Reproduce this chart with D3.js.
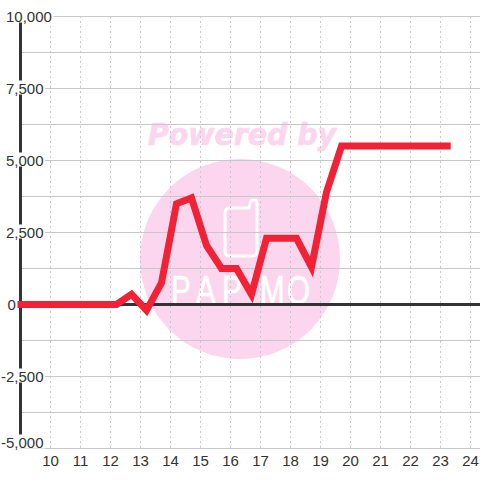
<!DOCTYPE html>
<html>
<head>
<meta charset="utf-8">
<script src="https://cdn.jsdelivr.net/npm/d3@7"></script>
<style>
  html, body { margin: 0; padding: 0; background: #fff; }
  text { font-family: "Liberation Sans", sans-serif; }
</style>
</head>
<body>
<div id="chart"></div>
<script>
// values
const hours = [8.9, 12.2, 12.7, 13.2, 13.7, 14.2, 14.7, 15.2, 15.7, 16.2, 16.7, 17.2, 17.7, 18.2, 18.7, 19.2, 19.7, 23.34];
const profit = [0, 0, 350, -200, 750, 3500, 3700, 2050, 1250, 1250, 350, 2300, 2300, 2300, 1300, 3900, 5500, 5500];
const xTicks = [10, 11, 12, 13, 14, 15, 16, 17, 18, 19, 20, 21, 22, 23, 24];
const yLabelTicks = [-5000, -2500, 0, 2500, 5000, 7500, 10000];
const yGridTicks = [-3750, -1250, 1250, 3750, 6250, 8750];
const logoLetters = ["P", "A", "P", "I", "M", "O"];

const width = 480, height = 480;
const x = d3.scaleLinear().domain([9, 24]).range([20.5, 470.5]);
const y = d3.scaleLinear().domain([-5000, 10000]).range([448.5, 16.5]);
// plain hyphen for negatives, d3.format would give a true minus
const fmt = d => d3.format(",")(d).replace("\u2212", "-");

const svg = d3.select("#chart").append("svg")
  .attr("width", width).attr("height", height)
  .style("display", "block");

// watermark
const mark = svg.append("g");
mark.append("circle").attr("cx", 240).attr("cy", 259).attr("r", 100).attr("fill", "#fcd6ee");
mark.append("text").attr("x", 148).attr("y", 145)
  .attr("textLength", 188).attr("lengthAdjust", "spacingAndGlyphs")
  .style("font-family", "DejaVu Sans").style("font-weight", "bold").style("font-style", "italic")
  .style("font-size", "30px").attr("fill", "#fcd6ee")
  .attr("stroke", "#fcd6ee").attr("stroke-width", 0.6)
  .text("Powered by");
mark.append("path")
  .attr("d", "M225 213 Q225 208 230 208 H249 L250.5 202 Q251 200 254 200 Q257 200 257 203 V251 Q257 256 252 256 H230 Q225 256 225 251 Z")
  .attr("fill", "none").attr("stroke", "#fff").attr("stroke-width", 3);
const logoX = [171, 196, 222, 249, 260, 287];
mark.selectAll("text.logo").data(logoLetters).enter().append("text")
  .attr("class", "logo")
  .attr("transform", (d, i) => `translate(${logoX[i]},304) scale(0.72,1)`)
  .style("font-size", "41px")
  .attr("fill", "#fff")
  .attr("stroke", "#fff").attr("stroke-width", 0.7)
  .text(d => d);

// grid
const grid = svg.append("g");
grid.selectAll("line.h").data(yLabelTicks.concat(yGridTicks)).enter().append("line")
  .attr("class", "h")
  .attr("x1", 20).attr("x2", width)
  .attr("y1", d => y(d)).attr("y2", d => y(d))
  .attr("stroke", "#c8c8c8").attr("stroke-width", 1);
grid.selectAll("line.v").data(xTicks).enter().append("line")
  .attr("class", "v")
  .attr("x1", d => x(d)).attr("x2", d => x(d))
  .attr("y1", 16).attr("y2", 448)
  .attr("stroke", "#c8c8c8").attr("stroke-width", 1).attr("stroke-dasharray", "2,3");

// axes
svg.append("line").attr("x1", x(9)).attr("x2", x(9)).attr("y1", 16).attr("y2", 448)
  .attr("stroke", "#333").attr("stroke-width", 3);
svg.append("line").attr("x1", x(9)).attr("x2", width).attr("y1", y(0)).attr("y2", y(0))
  .attr("stroke", "#333").attr("stroke-width", 3);

// y labels sit on white boxes that cut the axis
const yLabels = svg.append("g").selectAll("g").data(yLabelTicks).enter().append("g");
yLabels.append("text")
  .attr("x", d => d < 0 ? 1 : d === 0 ? 7.5 : 6)
  .attr("y", d => d === -5000 ? y(d) - 1 : y(d) + 5)
  .style("font-size", "15px").attr("fill", "#333")
  .text(d => fmt(d))
  .each(function () {
    const b = this.getBBox();
    d3.select(this.parentNode).insert("rect", "text")
      .attr("x", b.x).attr("y", b.y + 1).attr("width", b.width + 1.5).attr("height", b.height - 3)
      .attr("fill", "#fff");
  });

// x labels
svg.append("g").selectAll("text").data(xTicks).enter().append("text")
  .attr("x", d => x(d)).attr("y", 466)
  .attr("text-anchor", "middle")
  .style("font-size", "15px").attr("fill", "#333")
  .text(d => d);

// line
const line = d3.line().x((d, i) => x(hours[i])).y(d => y(d));
svg.append("path").datum(profit)
  .attr("d", line)
  .attr("fill", "none")
  .attr("stroke", "#f12136")
  .attr("stroke-width", 7)
  .attr("stroke-linejoin", "miter");
</script>
</body>
</html>
